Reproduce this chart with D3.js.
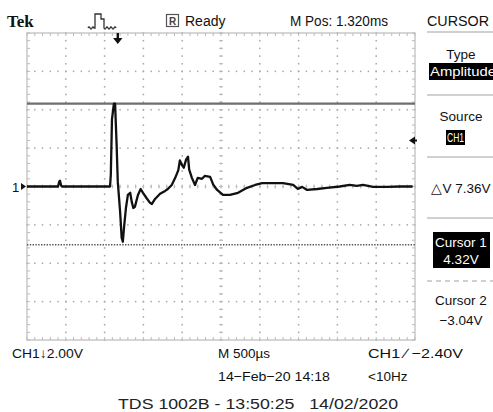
<!DOCTYPE html>
<html><head><meta charset="utf-8">
<script src="https://cdn.jsdelivr.net/npm/d3@7"></script>
<style>
html,body{margin:0;padding:0;background:#fff;}
svg{display:block;font-family:"Liberation Sans",Arial,sans-serif;}
</style></head>
<body>
<svg id="c" width="493" height="412"></svg>
<script>
// ---- data ----
const timeMs = [0,0.40,0.415,0.425,0.44,0.45,0.70,1.07,1.08,1.095,1.11,1.12,1.135,1.155,1.17,1.20,1.22,1.235,1.25,1.275,1.30,1.33,1.35,1.37,1.39,1.43,1.465,1.495,1.54,1.585,1.61,1.65,1.715,1.78,1.815,1.865,1.91,1.95,1.97,2.0,2.02,2.05,2.075,2.09,2.125,2.165,2.20,2.255,2.29,2.36,2.40,2.45,2.525,2.615,2.72,2.835,2.94,3.03,3.30,3.43,3.49,3.545,3.61,3.74,3.865,4.03,4.16,4.25,4.33,4.46,4.64,4.81,4.97];
const volts  = [0,0,0.25,0.3,0.05,0,0,0,0.6,3.5,4.0,4.32,4.32,2.16,0.24,-1.33,-2.68,-2.88,-2.15,-1.12,-0.44,-0.33,-0.8,-1.12,-1.06,-0.44,-0.13,-0.33,-0.6,-0.85,-0.91,-0.65,-0.38,-0.23,-0.13,0.08,0.45,0.85,1.36,1.1,0.98,1.4,1.55,0.88,0.45,0.08,0.45,0.4,0.55,0.5,0.1,-0.18,-0.44,-0.44,-0.33,-0.07,0.08,0.18,0.18,0.08,-0.13,-0.02,-0.18,-0.13,-0.07,0,0.08,0.03,0.08,-0.02,-0.02,0,0];
const cursorVolts = [4.32, -3.04];
const xDivisions = [0,0.5,1,1.5,2,2.5,3,3.5,4,4.5,5];
const yDivisions = [-8,-6,-4,-2,0,2,4,6,8];
const topLabels = ["Tek","Ready","M Pos: 1.320ms","CURSOR"];
const panelLabels = ["Type","Amplitude","Source","CH1","\u25B3V 7.36V","Cursor 1","4.32V","Cursor 2","\u22123.04V"];
const bottomLabels = ["CH1\u21932.00V","M 500\u00B5s","CH1 \u2215 \u22122.40V","14\u2212Feb\u221220 14:18","<10Hz","TDS 1002B - 13:50:25   14/02/2020"];
const triggerTimeMs = 1.17;
const triggerLevelDisp = 2.4;

// ---- drawing ----
const svg = d3.select("#c");
const x = d3.scaleLinear().domain([0,5]).range([27,415]);
const y = d3.scaleLinear().domain([-8,8]).range([340,33]);

const grid = svg.append("g");
const minorX = d3.range(0,5.0001,0.1);
const minorY = d3.range(-8,8.0001,0.4);
const dotCol = "#a8a8a8";
// dotted grid
xDivisions.slice(1,-1).forEach(t=>{
  grid.selectAll(null).data(minorY).enter().append("rect")
    .attr("x",x(t)-0.75).attr("y",d=>y(d)-0.75).attr("width",1.5).attr("height",1.6).attr("fill",dotCol);
});
yDivisions.slice(1,-1).forEach(v=>{
  grid.selectAll(null).data(minorX).enter().append("rect")
    .attr("x",d=>x(d)-0.75).attr("y",y(v)-0.75).attr("width",1.5).attr("height",1.5).attr("fill",dotCol);
});
// center ticks
grid.selectAll(null).data(minorX).enter().append("line")
  .attr("x1",d=>x(d)).attr("x2",d=>x(d)).attr("y1",y(0)-2).attr("y2",y(0)+2).attr("stroke","#bbb").attr("stroke-width",1);
grid.selectAll(null).data(minorY).enter().append("line")
  .attr("y1",d=>y(d)).attr("y2",d=>y(d)).attr("x1",x(2.5)-2).attr("x2",x(2.5)+2).attr("stroke","#bbb").attr("stroke-width",1);
// border
grid.append("rect").attr("x",x(0)).attr("y",y(8)).attr("width",x(5)-x(0)).attr("height",y(-8)-y(8))
  .attr("fill","none").attr("stroke","#c0c0c0").attr("stroke-width",1.3);
grid.selectAll(null).data(minorX).enter().append("line")
  .attr("x1",d=>x(d)).attr("x2",d=>x(d)).attr("y1",y(8)).attr("y2",y(8)+3).attr("stroke","#bbb");
grid.selectAll(null).data(minorX).enter().append("line")
  .attr("x1",d=>x(d)).attr("x2",d=>x(d)).attr("y1",y(-8)).attr("y2",y(-8)-3).attr("stroke","#bbb");
grid.selectAll(null).data(minorY).enter().append("line")
  .attr("y1",d=>y(d)).attr("y2",d=>y(d)).attr("x1",x(0)).attr("x2",x(0)+3).attr("stroke","#bbb");
grid.selectAll(null).data(minorY).enter().append("line")
  .attr("y1",d=>y(d)).attr("y2",d=>y(d)).attr("x1",x(5)).attr("x2",x(5)-3).attr("stroke","#bbb");

// cursors
svg.append("line").attr("x1",x(0)).attr("x2",x(5)).attr("y1",y(cursorVolts[0])).attr("y2",y(cursorVolts[0]))
  .attr("stroke","#6e6e6e").attr("stroke-width",2.2);
svg.append("line").attr("x1",x(0)).attr("x2",x(5)).attr("y1",y(cursorVolts[1])).attr("y2",y(cursorVolts[1]))
  .attr("stroke","#555").attr("stroke-width",1.5).attr("stroke-dasharray","1.4,1.4");

// trace
const pts = timeMs.map((t,i)=>[t,volts[i]]);
svg.append("path").datum(pts)
  .attr("d",d3.line().x(d=>x(d[0])).y(d=>y(d[1])))
  .attr("fill","none").attr("stroke","#111").attr("stroke-width",2.3).attr("stroke-linejoin","round");

// ground marker
svg.append("text").attr("x",12).attr("y",y(0)+5).attr("font-size",13).attr("fill","#111").text("1");
svg.append("path").attr("d",`M${x(0)-1},${y(0)} l-5,-3.5 l0,7 z`).attr("fill","#111");

// trigger position arrow
const tx = x(triggerTimeMs);
svg.append("path").attr("d",`M${tx-1.2},${y(8)} h2.4 v5 h3.5 l-4.7,6 l-4.7,-6 h3.5 z`).attr("fill","#111");
// trigger level arrow
const ty = y(triggerLevelDisp);
svg.append("path").attr("d",`M${x(5)-6},${ty} l6,-4 v3 h2 v2 h-2 v3 z`).attr("fill","#111");

// top bar
svg.append("text").attr("x",7).attr("y",27).attr("font-family","'Liberation Serif','DejaVu Serif',serif")
  .attr("font-weight","bold").attr("font-size",17).attr("fill","#111").text(topLabels[0]);
svg.append("path").attr("d","M88,28 q1,-2 2,0 q1,2 2,0 q1,-2 2,0 L95,28 L95,14 L101,14 L101,19 L104,19 L104,28 q1,2 2,0 q1,-2 2,0 q1,2 2,0 q1,-2 2,0 q1,2 2,0 q1,-2 2,0")
  .attr("fill","none").attr("stroke","#333").attr("stroke-width",1.3);
svg.append("rect").attr("x",166.5).attr("y",14.5).attr("width",12).attr("height",12).attr("fill","#fff").attr("stroke","#555").attr("stroke-width",1.2);
svg.append("text").attr("x",172.5).attr("y",24.5).attr("text-anchor","middle").attr("font-size",10).attr("font-weight","bold").attr("fill","#444").text("R");
svg.append("text").attr("x",185).attr("y",26).attr("font-size",14).attr("fill","#111").text(topLabels[1]);
svg.append("text").attr("x",290).attr("y",26).attr("font-size",14).attr("fill","#111")
  .attr("textLength",98).attr("lengthAdjust","spacingAndGlyphs").text(topLabels[2]);
svg.append("text").attr("x",427).attr("y",26).attr("font-size",14).attr("fill","#111")
  .attr("textLength",62).attr("lengthAdjust","spacingAndGlyphs").text(topLabels[3]);

// right panel
const sepY = [32,95,157,218];
sepY.forEach(v=>svg.append("line").attr("x1",427).attr("x2",493).attr("y1",v).attr("y2",v).attr("stroke","#d0d0d0").attr("stroke-width",2));
svg.append("line").attr("x1",427).attr("x2",493).attr("y1",281).attr("y2",281).attr("stroke","#d0d0d0").attr("stroke-width",2).attr("stroke-dasharray","5,4");
const cx = 461;
function pt(txt,yy,fill){return svg.append("text").attr("x",cx).attr("y",yy).attr("text-anchor","middle").attr("font-size",13.5).attr("fill",fill||"#111").text(txt);}
pt(panelLabels[0],59);
svg.append("rect").attr("x",429).attr("y",63).attr("width",64).attr("height",17).attr("fill","#000");
pt(panelLabels[1],76,"#fff").attr("x",430).attr("text-anchor","start").attr("textLength",66).attr("lengthAdjust","spacingAndGlyphs");
pt(panelLabels[2],121);
svg.append("rect").attr("x",446).attr("y",130).attr("width",19).attr("height",15).attr("fill","#000");
pt(panelLabels[3],142,"#fff").attr("x",447).attr("text-anchor","start").attr("font-size",12).attr("textLength",17).attr("lengthAdjust","spacingAndGlyphs");
pt(panelLabels[4],193);
svg.append("rect").attr("x",433).attr("y",232).attr("width",57).attr("height",36).attr("fill","#000");
pt(panelLabels[5],247,"#fff");
pt(panelLabels[6],264,"#fff");
pt(panelLabels[7],305);
pt(panelLabels[8],325);

// bottom
function bt(txt,xx,yy,fs){return svg.append("text").attr("x",xx).attr("y",yy).attr("font-size",fs||13.5).attr("fill","#111").text(txt);}
bt(bottomLabels[0],12,358).attr("textLength",71).attr("lengthAdjust","spacingAndGlyphs");
bt(bottomLabels[1],218,358);
bt(bottomLabels[2],368,358).attr("textLength",95).attr("lengthAdjust","spacingAndGlyphs");
bt(bottomLabels[3],218,381).attr("textLength",112).attr("lengthAdjust","spacingAndGlyphs");
bt(bottomLabels[4],368,381);
bt(bottomLabels[5],118,409,15).attr("fill","#222").attr("textLength",280).attr("lengthAdjust","spacingAndGlyphs").style("white-space","pre");
</script>
</body></html>
